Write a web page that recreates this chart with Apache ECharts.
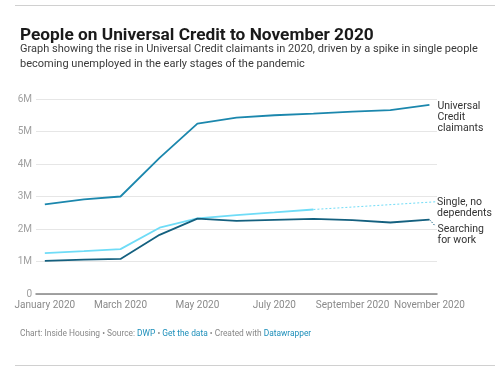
<!DOCTYPE html>
<html>
<head>
<meta charset="utf-8">
<script src="https://cdn.jsdelivr.net/npm/echarts@6/dist/echarts.min.js"></script>
<style>
html,body{margin:0;padding:0;background:#fff;}
#c{width:501px;height:371px;}
</style>
</head>
<body>
<div id="c"></div>
<script>
// ---- data (values in millions) ----
var months = ['2020-01-01','2020-02-01','2020-03-01','2020-04-01','2020-05-01','2020-06-01','2020-07-01','2020-08-01','2020-09-01','2020-10-01','2020-11-01'];
var ucClaimants = [2.76, 2.91, 3.00, 4.19, 5.24, 5.43, 5.50, 5.55, 5.61, 5.66, 5.82];
var singleNoDependents = [1.26, 1.32, 1.38, 2.04, 2.33, 2.43, 2.51, 2.60];
var searchingForWork = [1.02, 1.06, 1.08, 1.82, 2.32, 2.25, 2.28, 2.31, 2.27, 2.20, 2.29];
var xTickMonths = [0, 2, 4, 6, 8, 10]; // January, March, May, July, September, November
var yTicks = [0, 1, 2, 3, 4, 5, 6];
var xMin = '2019-12-25', xMax = '2020-11-07';
// label anchor values for the dotted label connectors
var singleLabelAnchor = [xMax, 2.84];
var searchingLabelAnchor = ['2020-11-05', 2.12];

function ts(d){ return new Date(d + 'T00:00:00Z').getTime(); }
function pairs(vals){ return vals.map(function(v,i){ return [ts(months[i]), v]; }); }
var monthNames = ['January','February','March','April','May','June','July','August','September','October','November','December'];

var C_UC = '#1b87ad', C_SINGLE = '#6fdcf7', C_SEARCH = '#14607f';

var chart = echarts.init(document.getElementById('c'), null, {renderer:'canvas', useUTC:true});
var singleData = pairs(singleNoDependents);
var searchData = pairs(searchingForWork);
var lastS = singleData[singleData.length-1], lastW = searchData[searchData.length-1];
chart.setOption({
  animation:false,
  useUTC:true,
  backgroundColor:'#fff',
  textStyle:{fontFamily:'Roboto'},
  title:[
    {text:'People on Universal Credit to November 2020', left:15, top:22,
     textStyle:{fontFamily:'Roboto', fontSize:17.3, fontWeight:'bold', color:'#1a1a1a'}},
    {text:'Graph showing the rise in Universal Credit claimants in 2020, driven by a spike in single people\nbecoming unemployed in the early stages of the pandemic',
     left:15, top:37, textStyle:{fontFamily:'Roboto', fontSize:11, fontWeight:'normal', color:'#3a3a3a', lineHeight:15}},
    {text:'{g|Chart: Inside Housing • Source: }{b|DWP}{g| • }{b|Get the data}{g| • Created with }{b|Datawrapper}',
     left:15, top:325, textStyle:{fontSize:8.4, fontWeight:'normal', rich:{
       g:{fontFamily:'Roboto', fontSize:8.4, fontWeight:'normal', color:'#888'},
       b:{fontFamily:'Roboto', fontSize:8.4, fontWeight:'normal', color:'#1d8fba'}}}}
  ],
  graphic:[
    {type:'line', shape:{x1:15,y1:5.5,x2:495,y2:5.5}, style:{stroke:'#d0d0d0', lineWidth:1}},
    {type:'line', shape:{x1:15,y1:365.5,x2:495,y2:365.5}, style:{stroke:'#d0d0d0', lineWidth:1}}
  ],
  grid:{left:36, right:64, top:99, bottom:77},
  xAxis:{
    type:'time', min:ts(xMin), max:ts(xMax),
    minInterval: 28*86400000, maxInterval: 31*86400000,
    axisLine:{show:true, lineStyle:{color:'#858585', width:1.5}},
    axisTick:{show:false},
    splitLine:{show:false},
    axisLabel:{
      fontFamily:'Roboto', fontSize:10, color:'#8a8a8a', margin:6, hideOverlap:false,
      showMinLabel:false, showMaxLabel:false,
      formatter:function(v){ var d=new Date(v); if (d.getUTCDate()!==1 || xTickMonths.indexOf(d.getUTCMonth())<0 || d.getUTCFullYear()!==2020) return ''; return monthNames[d.getUTCMonth()]+' '+d.getUTCFullYear(); }
    }
  },
  yAxis:{
    type:'value', min:yTicks[0], max:yTicks[yTicks.length-1], interval:1,
    axisLine:{show:false}, axisTick:{show:false},
    splitLine:{lineStyle:{color:'#e6e6e6', width:1}},
    axisLabel:{fontFamily:'Roboto', fontSize:10, color:'#a0a0a0', margin:4,
      formatter:function(v){ return v===0 ? '0' : v+'M'; }}
  },
  series:[
    {name:'Universal Credit claimants', type:'line', data:pairs(ucClaimants),
     showSymbol:false, lineStyle:{color:C_UC, width:1.8}, itemStyle:{color:C_UC},
     endLabel:{show:true, formatter:'Universal\nCredit\nclaimants', align:'left', verticalAlign:'top', offset:[8,-4], distance:0, fontFamily:'Roboto', fontSize:10.5, color:'#333', lineHeight:11}},
    {name:'Single, no dependents', type:'line', data:singleData,
     showSymbol:false, lineStyle:{color:C_SINGLE, width:1.8}, itemStyle:{color:C_SINGLE}},
    {name:'Single connector', type:'line', silent:true,
     data:[lastS, [ts(singleLabelAnchor[0]), singleLabelAnchor[1]]],
     showSymbol:false, lineStyle:{color:C_SINGLE, width:1, type:[2,2]},
     endLabel:{show:true, formatter:'Single, no\ndependents', align:'left', verticalAlign:'top', offset:[0,-5], distance:0, fontFamily:'Roboto', fontSize:10.5, color:'#333', lineHeight:11}},
    {name:'Searching for work', type:'line', data:searchData,
     showSymbol:false, lineStyle:{color:C_SEARCH, width:1.8}, itemStyle:{color:C_SEARCH}},
    {name:'Searching connector', type:'line', silent:true,
     data:[lastW, [ts(searchingLabelAnchor[0]), searchingLabelAnchor[1]]],
     showSymbol:false, lineStyle:{color:C_SEARCH, width:1, type:[1.5,1.5]},
     endLabel:{show:true, formatter:'Searching\nfor work', align:'left', verticalAlign:'top', offset:[3,-1], distance:0, fontFamily:'Roboto', fontSize:10.5, color:'#333', lineHeight:11}}
  ]
});
</script>
</body>
</html>
